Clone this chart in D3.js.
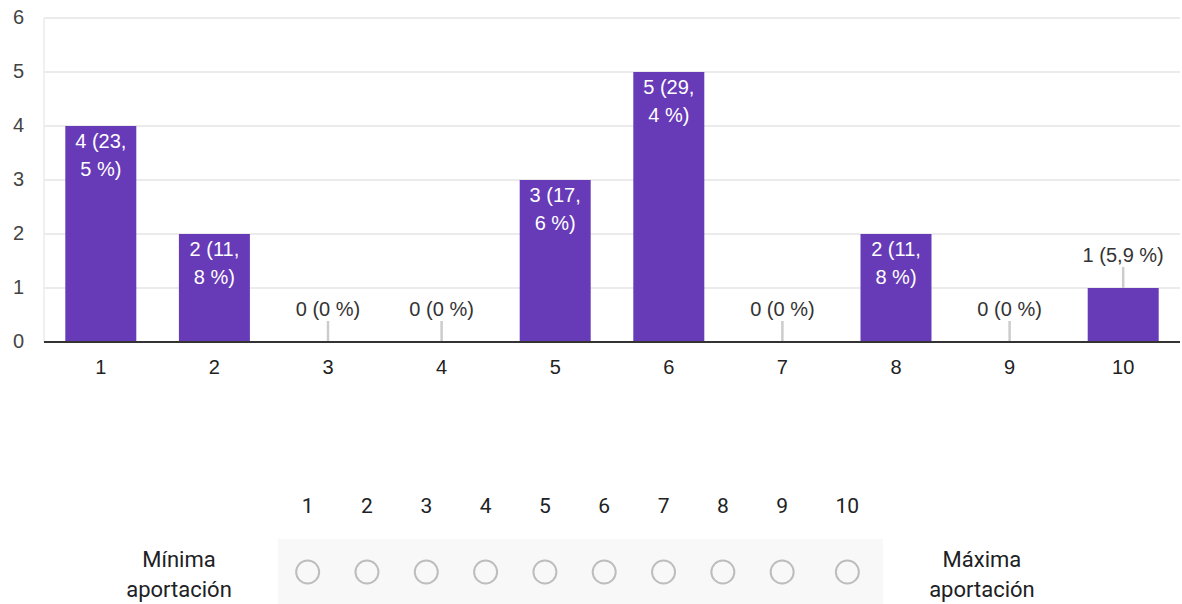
<!DOCTYPE html>
<html>
<head>
<meta charset="utf-8">
<script src="https://cdn.jsdelivr.net/npm/d3@7"></script>
<style>
  html, body { margin: 0; padding: 0; background: #fff; }
  svg { display: block; }
</style>
</head>
<body>
<svg width="1182" height="604"></svg>
<script>
// datos
var categorias = ["1", "2", "3", "4", "5", "6", "7", "8", "9", "10"];
var respuestas = [4, 2, 0, 0, 3, 5, 0, 2, 0, 1];
var porcentajes = ["23,5", "11,8", "0", "0", "17,6", "29,4", "0", "11,8", "0", "5,9"];
var yTicks = [0, 1, 2, 3, 4, 5, 6];
var etiquetaMin = ["Mínima", "aportación"];
var etiquetaMax = ["Máxima", "aportación"];

var svg = d3.select("svg"),
    margin = {top: 18, right: 2, bottom: 262, left: 44},
    width = 1182 - margin.left - margin.right,
    height = 604 - margin.top - margin.bottom;

var chartFont = "'Liberation Sans', Arial, sans-serif";

var x = d3.scaleBand()
    .domain(categorias)
    .range([margin.left, margin.left + width])
    .paddingInner(0.375)
    .paddingOuter(0.1875);

var y = d3.scaleLinear()
    .domain([0, 6])
    .range([margin.top + height, margin.top]);

// lineas de la cuadricula
svg.append("g")
  .selectAll("line")
  .data(yTicks.filter(function(d) { return d > 0; }))
  .enter().append("line")
    .attr("x1", margin.left)
    .attr("x2", margin.left + width)
    .attr("y1", function(d) { return y(d); })
    .attr("y2", function(d) { return y(d); })
    .attr("stroke", "#ebebeb")
    .attr("stroke-width", 2);

svg.append("line")
    .attr("x1", margin.left).attr("x2", margin.left)
    .attr("y1", y(6)).attr("y2", y(0))
    .attr("stroke", "#ebebeb")
    .attr("stroke-width", 1.5);

// eje Y
svg.append("g")
  .selectAll("text")
  .data(yTicks)
  .enter().append("text")
    .attr("x", 24)
    .attr("y", function(d) { return y(d) + 6; })
    .attr("text-anchor", "end")
    .attr("font-family", chartFont)
    .attr("font-size", 20)
    .attr("fill", "#444")
    .text(function(d) { return d; });

// barras
var datos = categorias.map(function(c, i) {
  return {cat: c, value: respuestas[i], label: respuestas[i] + " (" + porcentajes[i] + " %)"};
});

svg.append("g")
  .selectAll("rect")
  .data(datos)
  .enter().append("rect")
    .attr("x", function(d) { return x(d.cat); })
    .attr("y", function(d) { return y(d.value); })
    .attr("width", x.bandwidth())
    .attr("height", function(d) { return y(0) - y(d.value); })
    .attr("fill", "#673ab7");

// eje X (linea base)
svg.append("line")
    .attr("x1", margin.left).attr("x2", margin.left + width)
    .attr("y1", y(0)).attr("y2", y(0))
    .attr("stroke", "#333")
    .attr("stroke-width", 2);

svg.append("g")
  .selectAll("text")
  .data(categorias)
  .enter().append("text")
    .attr("x", function(d) { return x(d) + x.bandwidth() / 2; })
    .attr("y", y(0) + 32)
    .attr("text-anchor", "middle")
    .attr("font-family", chartFont)
    .attr("font-size", 20)
    .attr("fill", "#222")
    .text(function(d) { return d; });

// etiquetas de las barras
var lineH = 28;
var etiquetas = svg.append("g")
    .attr("font-family", chartFont)
    .attr("font-size", 20)
    .attr("text-anchor", "middle");

// medir para partir el texto en lineas (se puede cortar tras espacio o coma)
var medidor = svg.append("text")
    .attr("font-family", chartFont)
    .attr("font-size", 20);
function ancho(s) { medidor.text(s); return medidor.node().getComputedTextLength(); }
function partir(s, maxW) {
  var trozos = s.match(/[^ ,]*,|[^ ,]+ ?| /g);
  var lineas = [], actual = "";
  trozos.forEach(function(p) {
    var prueba = actual + p;
    if (actual && ancho(prueba.trim()) > maxW) { lineas.push(actual.trim()); actual = p; }
    else actual = prueba;
  });
  if (actual.trim()) lineas.push(actual.trim());
  return lineas;
}

datos.forEach(function(d) {
  var cx = x(d.cat) + x.bandwidth() / 2;
  var lineas = partir(d.label, x.bandwidth() * 0.8);
  var alto = y(0) - y(d.value);
  if (d.value > 0 && alto >= lineas.length * lineH + 20) {
    var t = etiquetas.append("text")
        .attr("fill", "#fff")
        .attr("y", y(d.value) + 22);
    lineas.forEach(function(l, i) {
      t.append("tspan")
        .attr("x", cx)
        .attr("dy", i === 0 ? 0 : lineH)
        .text(l);
    });
  } else {
    etiquetas.append("line")
        .attr("x1", cx).attr("x2", cx)
        .attr("y1", y(d.value) - 21)
        .attr("y2", y(d.value) - (d.value === 0 ? 1 : 0))
        .attr("stroke", "#ccc")
        .attr("stroke-width", 2.5);
    etiquetas.append("text")
        .attr("x", cx)
        .attr("y", y(d.value) - 26)
        .attr("fill", "#333")
        .text(d.label);
  }
});
medidor.remove();

// escala lineal de la pregunta (parte inferior)
var formFont = "Roboto, 'Noto Sans', sans-serif";
var escala = svg.append("g").attr("font-family", formFont).attr("fill", "#202124");

var medidor2 = escala.append("text").attr("font-size", 21);
var anchos = categorias.map(function(c) {
  medidor2.text(c);
  return medidor2.node().getComputedTextLength() + 47.5;
});
medidor2.remove();

var labelCol = 198, left0 = 80;
var boxLeft = left0 + labelCol;
var acum = [0];
anchos.forEach(function(w, i) { acum.push(acum[i] + w); });
var boxW = acum[acum.length - 1];

escala.append("rect")
    .attr("x", boxLeft)
    .attr("y", 539)
    .attr("width", boxW)
    .attr("height", 70)
    .attr("fill", "#f8f8f8");

var columnas = categorias.map(function(c, i) {
  return {cat: c, cx: boxLeft + acum[i] + anchos[i] / 2};
});

escala.selectAll("text.num")
  .data(columnas)
  .enter().append("text")
    .attr("class", "num")
    .attr("x", function(d) { return d.cx; })
    .attr("y", 513)
    .attr("text-anchor", "middle")
    .attr("font-size", 21)
    .text(function(d) { return d.cat; });

escala.selectAll("circle")
  .data(columnas)
  .enter().append("circle")
    .attr("cx", function(d) { return d.cx; })
    .attr("cy", 572)
    .attr("r", 11.5)
    .attr("fill", "none")
    .attr("stroke", "#bdbdbd")
    .attr("stroke-width", 2);

function etiquetaLado(lineas, cx) {
  var t = escala.append("text")
      .attr("text-anchor", "middle")
      .attr("font-size", 22)
      .attr("y", 567);
  lineas.forEach(function(l, i) {
    t.append("tspan").attr("x", cx).attr("dy", i === 0 ? 0 : 30).text(l);
  });
}
etiquetaLado(etiquetaMin, left0 + labelCol / 2);
etiquetaLado(etiquetaMax, boxLeft + boxW + labelCol / 2);
</script>
</body>
</html>
